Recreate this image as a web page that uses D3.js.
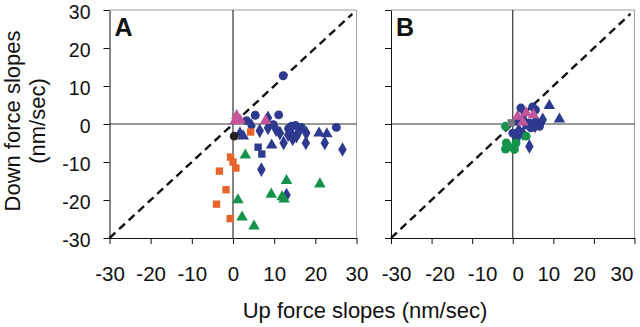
<!DOCTYPE html>
<html>
<head>
<meta charset="utf-8">
<script src="https://cdn.jsdelivr.net/npm/d3@7"></script>
<style>
  body { margin: 0; background: #fff; }
  svg text { font-family: "Liberation Sans", Arial, sans-serif; fill: #111; }
</style>
</head>
<body>
<svg id="chart" width="640" height="327"></svg>
<script>
// axis ticks (both panels share them)
const ticks = [-30, -20, -10, 0, 10, 20, 30];

// panel A, [up slope, down slope]
const aBlueCircles = [[12.2, 12.7], [11.1, 2.4], [5.4, 2.3], [3.3, 0.9], [9.8, -0.2], [25.1, -0.9],
  [14.2, -0.6], [16.6, -0.9], [15.2, -0.4], [13.5, -1.2]];
const aBlueDiamonds = [[8.5, 1.6], [6.5, -1.8], [8.5, -1.0], [11.4, -2.4], [13.4, -2.8], [15.4, -3.2],
  [12.3, -5.0], [14.5, -3.9], [17.7, -5.0], [17.8, -2.4], [22.3, -5.0], [26.6, -6.7], [6.9, -12.0],
  [13.0, -18.7], [4.5, -0.5], [10.5, -1.5], [16.0, -2.0], [14.0, -2.2]];
const aBlueSquares = [[6.1, -6.1], [7.0, -7.9]];
const aBlueTriangles = [[1.7, -2.4], [2.5, -3.2], [9.4, -5.6], [20.9, -2.4], [22.8, -2.6]];
const aPinkTriangles = [[0.9, 2.2], [1.7, 1.1], [7.9, 0.9], [0.5, 0.8]];
const aBlackCircles = [[0.3, -3.2]];
const aOrangeSquares = [[4.3, -2.1], [-0.6, -8.7], [0.0, -10.0], [0.7, -11.6], [-3.3, -12.4],
  [-1.7, -17.3], [-4.0, -21.1], [-0.7, -24.9]];
const aGreenTriangles = [[3.0, -8.2], [13.0, -14.9], [21.1, -15.8], [9.3, -18.5], [11.9, -19.2],
  [12.4, -19.8], [1.2, -20.0], [2.2, -24.5], [5.1, -26.9]];

// panel B
const bBlueCircles = [[2.0, 4.2], [4.9, 4.5], [5.6, 3.7], [6.6, -0.6], [4.5, -1.0], [0.0, -2.4],
  [0.8, 0.7], [2.5, 1.1], [4.1, 0.3], [5.7, 0.6], [3.0, 3.0], [1.0, -3.5], [3.5, -0.3]];
const bBlueDiamonds = [[4.1, -5.9], [7.4, 1.1], [0.8, -5.0], [2.5, -2.5], [5.5, -0.5]];
const bBlueTriangles = [[9.0, 4.8], [11.5, 1.3], [1.5, -1.5]];
const bPinkTriangles = [[1.2, 2.0], [3.3, 2.9], [5.1, 2.4], [2.5, 0.5]];
const bGreenCircles = [[-1.8, -6.6], [0.4, -6.7], [0.8, -5.0], [3.3, -3.2], [-1.6, -5.0],
  [-1.8, -0.6], [-1.0, -6.0]];
const bGraySquares = [[-0.4, 0.3]];

const col = {blue: "#2d3a8f", pink: "#c4559b", orange: "#e8642c", green: "#14934c", black: "#222", gray: "#777"};
const shape = {circle: d3.symbolCircle, square: d3.symbolSquare, diamond: d3.symbolDiamond, triangle: d3.symbolTriangle};
const size = {circle: 62, square: 54, diamond: 62, triangle: 58};

const panels = [
  {label: "A", x0: 109.5, x1: 356.5, labels: true, labelShift: [0, 0, 0, 0, 0, 0, 0], series: [
    [aBlueCircles, "circle", "blue"], [aBlueDiamonds, "diamond", "blue"], [aBlueSquares, "square", "blue"],
    [aBlueTriangles, "triangle", "blue"], [aPinkTriangles, "triangle", "pink"], [aBlackCircles, "circle", "black"],
    [aOrangeSquares, "square", "orange"], [aGreenTriangles, "triangle", "green"]]},
  {label: "B", x0: 391, x1: 634.5, labels: false, labelShift: [5, 8, 10, 5, -5, -10, -13], series: [
    [bBlueCircles, "circle", "blue"], [bBlueDiamonds, "diamond", "blue"], [bBlueTriangles, "triangle", "blue"],
    [bGreenCircles, "circle", "green"], [bPinkTriangles, "triangle", "pink"], [bGraySquares, "square", "gray"]]}
];

const svg = d3.select("#chart");
const yTop = 10, yBot = 238;

panels.forEach(p => {
  const x = d3.scaleLinear().domain([-30, 30]).range([p.x0, p.x1]);
  const y = d3.scaleLinear().domain([-30, 30]).range([yBot, yTop]);
  const g = svg.append("g");

  // top / right frame
  g.append("path")
    .attr("d", `M${x(-30)},${y(30)}H${x(30)}V${y(-30)}`)
    .attr("fill", "none").attr("stroke", "#a0a0a0").attr("stroke-width", 1);

  // zero lines
  g.append("line").attr("x1", x(-30)).attr("x2", x(30)).attr("y1", y(0)).attr("y2", y(0))
    .attr("stroke", "#333").attr("stroke-width", 1.2);
  g.append("line").attr("x1", x(0)).attr("x2", x(0)).attr("y1", y(-30)).attr("y2", y(30))
    .attr("stroke", "#333").attr("stroke-width", 1.2);

  // y = x
  g.append("line").attr("x1", x(-30)).attr("y1", y(-30)).attr("x2", x(29)).attr("y2", y(29))
    .attr("stroke", "#111").attr("stroke-width", 2.4).attr("stroke-dasharray", "8,5");

  const xAxis = g.append("g").attr("transform", `translate(0,${yBot})`)
    .call(d3.axisBottom(x).tickValues(ticks).tickSize(6).tickSizeOuter(0).tickPadding(22)
      .tickFormat(d => String(d)));
  xAxis.selectAll(".tick text").attr("dx", (d, i) => p.labelShift[i]);
  const yAxis = g.append("g").attr("transform", `translate(${p.x0},0)`)
    .call(d3.axisLeft(y).tickValues(ticks).tickSize(6).tickSizeOuter(0).tickPadding(13)
      .tickFormat(d => p.labels ? String(d) : ""));
  [xAxis, yAxis].forEach(a => {
    a.select(".domain").attr("stroke", "#111");
    a.selectAll(".tick line").attr("stroke", "#111");
    a.selectAll("text").style("font-size", "20.5px").attr("fill", "#111");
  });
  yAxis.selectAll(".tick text").style("font-size", "19.5px").attr("dy", "0.42em");

  p.series.forEach(([pts, sh, c]) => {
    g.append("g").selectAll("path").data(pts).enter().append("path")
      .attr("d", d3.symbol().type(shape[sh]).size(size[sh]))
      .attr("transform", d => `translate(${x(d[0])},${y(d[1])})`)
      .attr("fill", col[c]);
  });

  g.append("text").text(p.label)
    .attr("x", p.x0 + 5).attr("y", 36)
    .style("font-size", "25px").style("font-weight", "bold");
});

svg.append("text").text("Up force slopes (nm/sec)")
  .attr("x", 365).attr("y", 318)
  .attr("text-anchor", "middle").style("font-size", "22px");

const yt = svg.append("text")
  .attr("transform", "translate(20,121) rotate(-90)")
  .attr("text-anchor", "middle").style("font-size", "22px");
yt.append("tspan").attr("x", 0).attr("y", 0).text("Down force slopes");
yt.append("tspan").attr("x", 0).attr("y", 25).text("(nm/sec)");
</script>
</body>
</html>
